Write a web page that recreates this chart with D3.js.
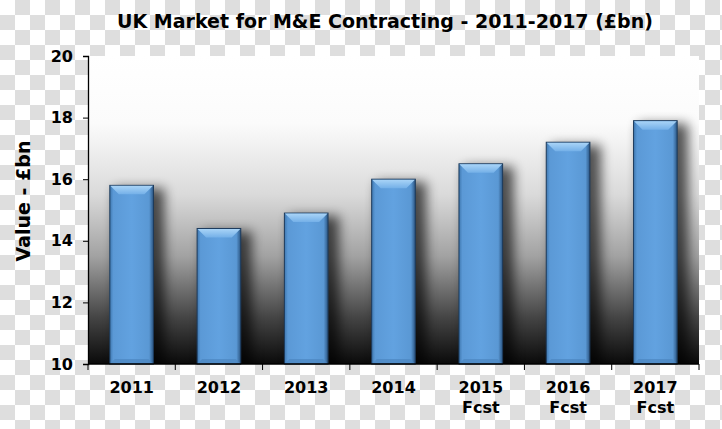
<!DOCTYPE html>
<html><head><meta charset="utf-8">
<script src="https://cdn.jsdelivr.net/npm/d3@7"></script>
<style>html,body{margin:0;padding:0;background:#fff}svg{display:block}</style>
</head><body>
<script>
const categories = ["2011","2012","2013","2014","2015\nFcst","2016\nFcst","2017\nFcst"];
const values = [15.8, 14.4, 14.9, 16.0, 16.5, 17.2, 17.9];
const yTicks = [10, 12, 14, 16, 18, 20];
const title = "UK Market for M&E Contracting - 2011-2017 (£bn)";
const yLabel = "Value - £bn";

const W = 722, H = 429;
const m = {l: 88, r: 23, t: 56, b: 65};
const svg = d3.select("body").append("svg").attr("width", W).attr("height", H);
const defs = svg.append("defs");

// checkerboard
const pat = defs.append("pattern").attr("id","chk").attr("width",30).attr("height",30).attr("patternUnits","userSpaceOnUse");
pat.append("rect").attr("width",30).attr("height",30).attr("fill","#ffffff");
pat.append("rect").attr("x",15).attr("y",0).attr("width",15).attr("height",15).attr("fill","#dedede");
pat.append("rect").attr("x",0).attr("y",15).attr("width",15).attr("height",15).attr("fill","#dedede");
svg.append("rect").attr("width",W).attr("height",H).attr("fill","url(#chk)");

const x = d3.scaleBand().domain(categories).range([m.l, W - m.r]).paddingInner(0.5).paddingOuter(0.25);
const y = d3.scaleLinear().domain([10, 20]).range([H - m.b, m.t]);

// plot background gradient
const bg = defs.append("linearGradient").attr("id","bg").attr("x1",0).attr("y1",0).attr("x2",0).attr("y2",1);
[[0,"#ffffff"],[0.22,"#fbfbfb"],[0.45,"#dadada"],[0.65,"#a2a2a2"],[0.85,"#444444"],[1,"#0a0a0a"]]
  .forEach(([o,c]) => bg.append("stop").attr("offset",o).attr("stop-color",c));
svg.append("rect").attr("x",m.l).attr("y",m.t).attr("width",W-m.r-m.l).attr("height",H-m.b-m.t).attr("fill","url(#bg)");

// shadow
const f = defs.append("filter").attr("id","blur").attr("x","-50%").attr("y","-50%").attr("width","200%").attr("height","200%");
f.append("feGaussianBlur").attr("stdDeviation",6);
const clip = defs.append("clipPath").attr("id","pc");
clip.append("rect").attr("x",m.l).attr("y",m.t).attr("width",W-m.r-m.l).attr("height",H-m.b-m.t);

const data = categories.map((c,i)=>({c, v: values[i]}));
svg.append("g").attr("clip-path","url(#pc)").selectAll("rect").data(data).join("rect")
  .attr("x", d => x(d.c) + 5).attr("y", d => y(d.v) + 3)
  .attr("width", x.bandwidth() + 6).attr("height", d => y(10) - y(d.v) + 10)
  .attr("fill","#000").attr("opacity",0.65).attr("filter","url(#blur)");

// bar gradients
const side = defs.append("linearGradient").attr("id","body").attr("x1",0).attr("x2",1).attr("y1",0).attr("y2",0);
[[0,"#3f78b0"],[0.08,"#5b99d6"],[0.5,"#62a2e0"],[0.9,"#5a98d4"],[1,"#2b5582"]]
  .forEach(([o,c]) => side.append("stop").attr("offset",o).attr("stop-color",c));
const topg = defs.append("linearGradient").attr("id","topg").attr("x1",0).attr("x2",0).attr("y1",0).attr("y2",1);
[[0,"#a9d4f7"],[1,"#74b0e8"]].forEach(([o,c]) => topg.append("stop").attr("offset",o).attr("stop-color",c));

const bars = svg.append("g").selectAll("g").data(data).join("g");
const bv = 9;
bars.append("rect").attr("x", d => x(d.c)).attr("y", d => y(d.v))
  .attr("width", x.bandwidth()).attr("height", d => y(10) - y(d.v))
  .attr("fill","url(#body)").attr("stroke","#1d3b5c").attr("stroke-width",1);
bars.append("path").attr("d", d => {
  const x0 = x(d.c), x1 = x0 + x.bandwidth(), t = y(d.v);
  return `M${x0+0.5},${t+0.5}L${x1-0.5},${t+0.5}L${x1-bv},${t+bv}L${x0+bv},${t+bv}Z`;
}).attr("fill","url(#topg)");
bars.append("path").attr("d", d => {
  const x0 = x(d.c), x1 = x0 + x.bandwidth(), b = y(10);
  return `M${x0+0.5},${b-0.5}L${x1-0.5},${b-0.5}L${x1-5},${b-5}L${x0+5},${b-5}Z`;
}).attr("fill","#4b86c0").attr("opacity",0.7);

// axes
const font = "'DejaVu Sans', Verdana, sans-serif";
const ya = svg.append("g").attr("transform",`translate(${m.l},0)`)
  .call(d3.axisLeft(y).tickValues(yTicks).tickSize(5).tickPadding(10).tickFormat(d3.format("d")));
ya.select(".domain").attr("stroke","#000").attr("stroke-width",1.3);
ya.selectAll(".tick line").attr("stroke","#000");
ya.selectAll("text").attr("font-family",font).attr("font-weight","bold").attr("font-size",16).attr("fill","#000");

const xa = svg.append("g").attr("transform",`translate(0,${H-m.b})`);
xa.append("line").attr("x1",m.l).attr("x2",W-m.r).attr("stroke","#000").attr("stroke-width",1.3);
const bounds = categories.map(c => x(c) - x.step()*x.paddingInner()/2).concat([W-m.r]);
xa.selectAll("line.tk").data(bounds).join("line").attr("class","tk")
  .attr("x1",d=>d).attr("x2",d=>d).attr("y1",0).attr("y2",6).attr("stroke","#000");
const xl = xa.selectAll("text").data(categories).join("text")
  .attr("x", d => x(d) + x.bandwidth()/2).attr("y", 29)
  .attr("text-anchor","middle").attr("font-family",font).attr("font-weight","bold").attr("font-size",16).attr("fill","#000");
xl.each(function(d){
  const lines = d.split("\n");
  d3.select(this).selectAll("tspan").data(lines).join("tspan")
    .attr("x", x(d) + x.bandwidth()/2).attr("dy",(l,i)=> i ? 20 : 0).text(l=>l);
});

svg.append("text").attr("x", 385).attr("y", 28).attr("text-anchor","middle")
  .attr("font-family",font).attr("font-weight","bold").attr("font-size",19).attr("fill","#000").text(title);
svg.append("text").attr("transform","translate(30,201) rotate(-90)").attr("text-anchor","middle")
  .attr("font-family",font).attr("font-weight","bold").attr("font-size",19).attr("fill","#000").text(yLabel);
</script>
</body></html>
